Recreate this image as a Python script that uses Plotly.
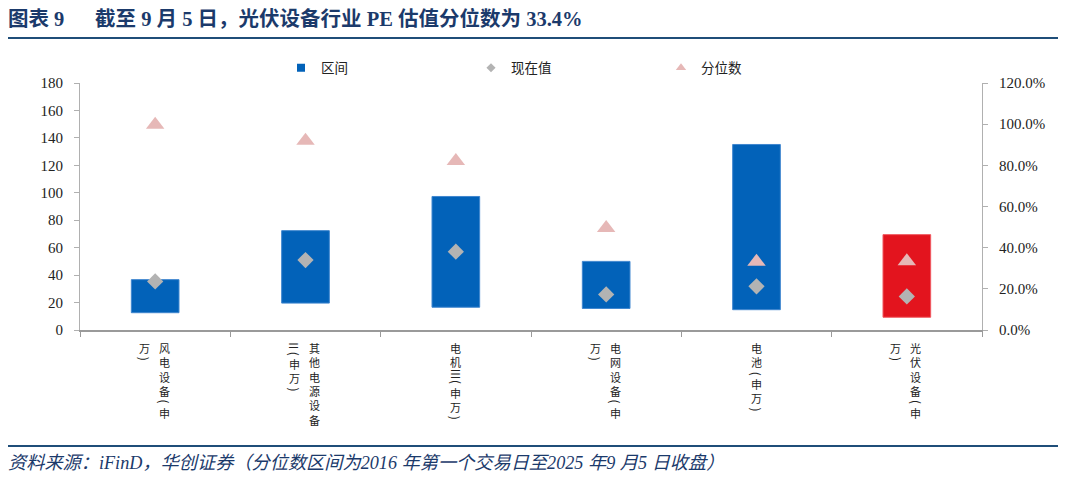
import plotly.graph_objects as go

categories = ["风电设备(申万)", "其他电源设备Ⅱ(申万)", "电机Ⅲ(申万)", "电网设备(申万)", "电池(申万)", "光伏设备(申万)"]
range_low = [12.6, 19.6, 16.6, 15.7, 14.8, 9.3]
range_high = [36.7, 72.4, 97.3, 50.0, 135.2, 69.5]
current_pe = [35.4, 51.0, 57.1, 25.9, 31.8, 24.5]
percentile = [0.997, 0.920, 0.821, 0.496, 0.332, 0.334]
left_ticks = list(range(0, 181, 20))
right_ticks = [0, 0.2, 0.4, 0.6, 0.8, 1.0, 1.2]

BLUE = "#0262B9"
RED = "#E3141E"
GRAY = "#B3B3B3"
PINK = "#E6B8B7"
NAVY = "#1B3A6B"
SERIF = "Liberation Serif, Times New Roman, Noto Sans CJK SC"
CJK = "Noto Sans CJK SC, Liberation Serif"

bar_colors = [RED if c.startswith("光伏") else BLUE for c in categories]
bar_lines = ["#F0575E" if c.startswith("光伏") else "#3F86CF" for c in categories]

fig = go.Figure()
fig.add_trace(go.Bar(
    x=categories, y=[h - l for h, l in zip(range_high, range_low)], base=range_low,
    name="区间", marker=dict(color=bar_colors, line=dict(color=bar_lines, width=1)),
    width=0.317, yaxis="y", showlegend=False,
))
fig.add_trace(go.Scatter(
    x=categories, y=current_pe, mode="markers", name="现在值",
    marker=dict(symbol="diamond", size=12.5, color=GRAY), yaxis="y", showlegend=False,
))
fig.add_trace(go.Scatter(
    x=categories, y=percentile, mode="markers", name="分位数",
    marker=dict(symbol="triangle-up", size=16, color=PINK), yaxis="y2", showlegend=False,
))
# legend entries with small symbols (like the reference)
for nm, sym, col, sz in [("区间", "square", BLUE, 8), ("现在值", "diamond", GRAY, 7), ("分位数", "triangle-up", PINK, 9)]:
    fig.add_trace(go.Scatter(x=[None], y=[None], mode="markers", name=nm,
                             marker=dict(symbol=sym, size=sz, color=col), showlegend=True))

# vertical category labels built from the category strings
rot_chars = {"(": 0.5, ")": 0.5, "Ⅱ": 0.6, "Ⅲ": 0.6}
LBL_SIZE = 11
step = 1.3 * LBL_SIZE  # plotly line height
max_units = 6.2
annotations = []
for cat in categories:
    cols = [[]]
    used = 0.0
    for ch in cat:
        u = rot_chars.get(ch, 1.0)
        if used + u > max_units and cols[-1]:
            cols.append([])
            used = 0.0
        cols[-1].append((ch, u))
        used += u
    n = len(cols)
    for ci, col in enumerate(cols):
        xs = 0 if n == 1 else 9 - ci * 20
        # group into runs of upright characters and single rotated characters
        segs = []
        for ch, u in col:
            if ch in rot_chars:
                segs.append(([ch], u, True))
            elif segs and not segs[-1][2]:
                segs[-1][0].append(ch)
                segs[-1] = (segs[-1][0], segs[-1][1] + u, False)
            else:
                segs.append(([ch], u, False))
        y = 0.0
        for chars, u, rot in segs:
            center = y + u * step / 2
            annotations.append(dict(
                x=cat, xref="x", y=0, yref="paper", text="<br>".join(chars), showarrow=False,
                xanchor="center", yanchor="middle", xshift=xs, yshift=-(11 + center),
                textangle=90 if rot else 0, borderpad=0,
                font=dict(family=CJK, size=LBL_SIZE + (1 if rot else 0), color="#222222"),
            ))
            y += u * step

annotations.append(dict(
    text="<b>图表 9　  截至 9 月 5 日，光伏设备行业 PE 估值分位数为 33.4%</b>",
    xref="paper", yref="paper", x=(6 - 80) / 902, y=(330 - 18) / 247,
    xanchor="left", yanchor="middle", showarrow=False,
    font=dict(family=SERIF, size=20.5, color=NAVY),
))
annotations.append(dict(
    text="<i>资料来源：iFinD，华创证券（分位数区间为2016 年第一个交易日至2025 年9 月5 日收盘）</i>",
    xref="paper", yref="paper", x=(6 - 80) / 902, y=(330 - 463) / 247,
    xanchor="left", yanchor="middle", showarrow=False,
    font=dict(family=SERIF, size=18.2, color=NAVY),
))

shapes = [
    dict(type="line", xref="paper", yref="paper", x0=(8 - 80) / 902, x1=(1060 - 80) / 902,
         y0=(330 - 38) / 247, y1=(330 - 38) / 247, line=dict(color="#1F4E79", width=2.2)),
    dict(type="line", xref="paper", yref="paper", x0=(8 - 80) / 902, x1=(1060 - 80) / 902,
         y0=(330 - 446) / 247, y1=(330 - 446) / 247, line=dict(color="#1F4E79", width=2.2)),
]

fig.update_layout(
    width=1058, height=469,
    margin=dict(l=72, r=84, t=75, b=147, autoexpand=False),
    paper_bgcolor="white", plot_bgcolor="white",
    font=dict(family=SERIF, size=13, color="#222222"),
    xaxis=dict(
        type="category", showline=True, linecolor="#9A9A9A", linewidth=1.5,
        ticks="outside", tickson="boundaries", ticklen=5, tickcolor="#9A9A9A",
        showticklabels=False, showgrid=False, zeroline=False,
    ),
    yaxis=dict(
        range=[0, 180], tickvals=left_ticks, showline=True, linecolor="#B0B0B0",
        linewidth=1, ticks="outside", ticklen=5, tickcolor="#B0B0B0", ticklabelstandoff=8,
        showgrid=False, zeroline=False, tickfont=dict(family=SERIF, size=15, color="#222222"),
    ),
    yaxis2=dict(
        range=[0, 1.2], tickvals=right_ticks, tickformat=".1%", overlaying="y",
        side="right", showline=True, linecolor="#B0B0B0", linewidth=1,
        ticks="outside", ticklen=5, tickcolor="#B0B0B0", ticklabelstandoff=8,
        showgrid=False, zeroline=False,
        tickfont=dict(family=SERIF, size=15, color="#222222"),
    ),
    legend=dict(
        orientation="h", x=(281 - 80) / 902, xanchor="left", y=(330 - 68) / 247,
        yanchor="middle", entrywidth=145, entrywidthmode="pixels", itemwidth=30,
        font=dict(family=CJK, size=13.5, color="#222222"), bgcolor="rgba(0,0,0,0)",
    ),
    annotations=annotations, shapes=shapes,
)

fig.write_html("out.html")
